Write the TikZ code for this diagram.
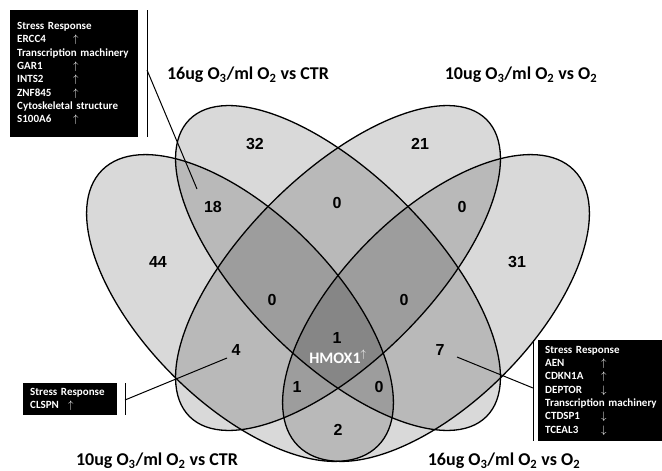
\documentclass[tikz,border=0pt]{standalone}
\usepackage{fontspec}
\setmainfont{Carlito}
\newfontfamily\numfont{Liberation Sans}
\usepackage{tikz}
\usetikzlibrary{positioning}

\tikzset{
  vennfill/.style={fill=black, fill opacity=0.15},
  vennline/.style={draw=black, line width=1.3pt},
  num/.style={font=\numfont\bfseries\fontsize{16}{16}\selectfont, inner sep=0pt},
  setlabel/.style={font=\bfseries\fontsize{18}{18}\selectfont, inner sep=0pt},
  genebox/.style={fill=black, text=white, font=\bfseries\fontsize{11}{13.3}\selectfont,
    align=left, anchor=north west, inner xsep=7pt, inner ysep=0pt},
  barline/.style={line width=1pt},
}
\newcommand{\geneup}[2][56pt]{\makebox[#1][l]{#2}$\uparrow$}
\newcommand{\genedn}[2][56pt]{\makebox[#1][l]{#2}$\downarrow$}

\begin{document}
\begin{tikzpicture}[x=1pt,y=1pt,yscale=-1,xscale=1]
        \useasboundingbox (0,0) rectangle (662,471);
        %Shape: Ellipse fills [A, B, C, D]
        \path[vennfill, rotate around={45:(240,308)}] (240,308) ellipse (195 and 95);
        \path[vennfill, rotate around={45:(338,268)}] (338,268) ellipse (210 and 93);
        \path[vennfill, rotate around={-45:(338,268)}] (338,268) ellipse (210 and 93);
        \path[vennfill, rotate around={-45:(436,308)}] (436,308) ellipse (195 and 95);
        %Shape: Ellipse outlines
        \draw[vennline, rotate around={45:(240,308)}] (240,308) ellipse (195 and 95);
        \draw[vennline, rotate around={45:(338,268)}] (338,268) ellipse (210 and 93);
        \draw[vennline, rotate around={-45:(338,268)}] (338,268) ellipse (210 and 93);
        \draw[vennline, rotate around={-45:(436,308)}] (436,308) ellipse (195 and 95);

        % Text Node: set names
        \node[setlabel] (labB) at (248,75) {16ug O\textsubscript{3}/ml O\textsubscript{2} vs CTR};
        \node[setlabel] (labC) at (521,75) {10ug O\textsubscript{3}/ml O\textsubscript{2} vs O\textsubscript{2}};
        \node[setlabel] (labA) at (157,461) {10ug O\textsubscript{3}/ml O\textsubscript{2} vs CTR};
        \node[setlabel] (labD) at (504,461) {16ug O\textsubscript{3}/ml O\textsubscript{2} vs O\textsubscript{2}};

        % Text Node: region counts
        \node[num] (nA) at (158,262) {44};
        \node[num] (nB) at (255,144) {32};
        \node[num] (nC) at (420,144) {21};
        \node[num] (nD) at (517,262) {31};
        \node[num] (nAB) at (213,207) {18};
        \node[num] (nBC) at (337,203) {0};
        \node[num] (nCD) at (462,207) {0};
        \node[num] (nABC) at (272,300) {0};
        \node[num] (nBCD) at (404,300) {0};
        \node[num] (nAC) at (236,350) {4};
        \node[num] (nBD) at (440,350) {7};
        \node[num] (nABCD) at (337,338) {1};
        \node[font=\bfseries\fontsize{16}{16}\selectfont, text=white, inner sep=0pt] (hmox) at (338,357) {HMOX1\textsuperscript{$\uparrow$}};
        \node[num] (nABD) at (297,387) {1};
        \node[num] (nACD) at (379,387) {0};
        \node[num] (nAD) at (338,430) {2};

        % Text Node: gene boxes
        \node[genebox, minimum width=128, minimum height=127, text width=114] (boxAB) at (10,10)
            {Stress Response\\ \geneup{ERCC4}\\ Transcription machinery\\ \geneup{GAR1}\\ \geneup{INTS2}\\
             \geneup{ZNF845}\\ Cytoskeletal structure\\ \geneup{S100A6}};
        \node[genebox, minimum width=124, minimum height=101, text width=114] (boxBD) at (538,340)
            {Stress Response\\ \geneup{AEN}\\ \geneup{CDKN1A}\\ \genedn{DEPTOR}\\ Transcription machinery\\
             \genedn{CTDSP1}\\ \genedn{TCEAL3}};
        \node[genebox, minimum width=94, minimum height=32, text width=80] (boxAC) at (23,383)
            {Stress Response\\ \geneup[38pt]{CLSPN}};

        %Straight Lines: brackets and pointers
        \coordinate (barABtop) at (147,10);
        \coordinate (barABbot) at (147,137);
        \coordinate (barABmid) at (147,70);
        \coordinate (ptrAB) at (197,189);
        \draw[barline] (barABtop) -- (barABbot);
        \draw[barline] (barABmid) -- (ptrAB);
        \coordinate (barBDtop) at (533,340);
        \coordinate (barBDbot) at (533,441);
        \coordinate (barBDmid) at (533,388);
        \coordinate (ptrBD) at (457,357);
        \draw[barline] (barBDtop) -- (barBDbot);
        \draw[barline] (barBDmid) -- (ptrBD);
        \coordinate (barACtop) at (125,383);
        \coordinate (barACbot) at (125,415);
        \coordinate (barACmid) at (125,400);
        \coordinate (ptrAC) at (227,358);
        \draw[barline] (barACtop) -- (barACbot);
        \draw[barline] (barACmid) -- (ptrAC);
\end{tikzpicture}
\end{document}
